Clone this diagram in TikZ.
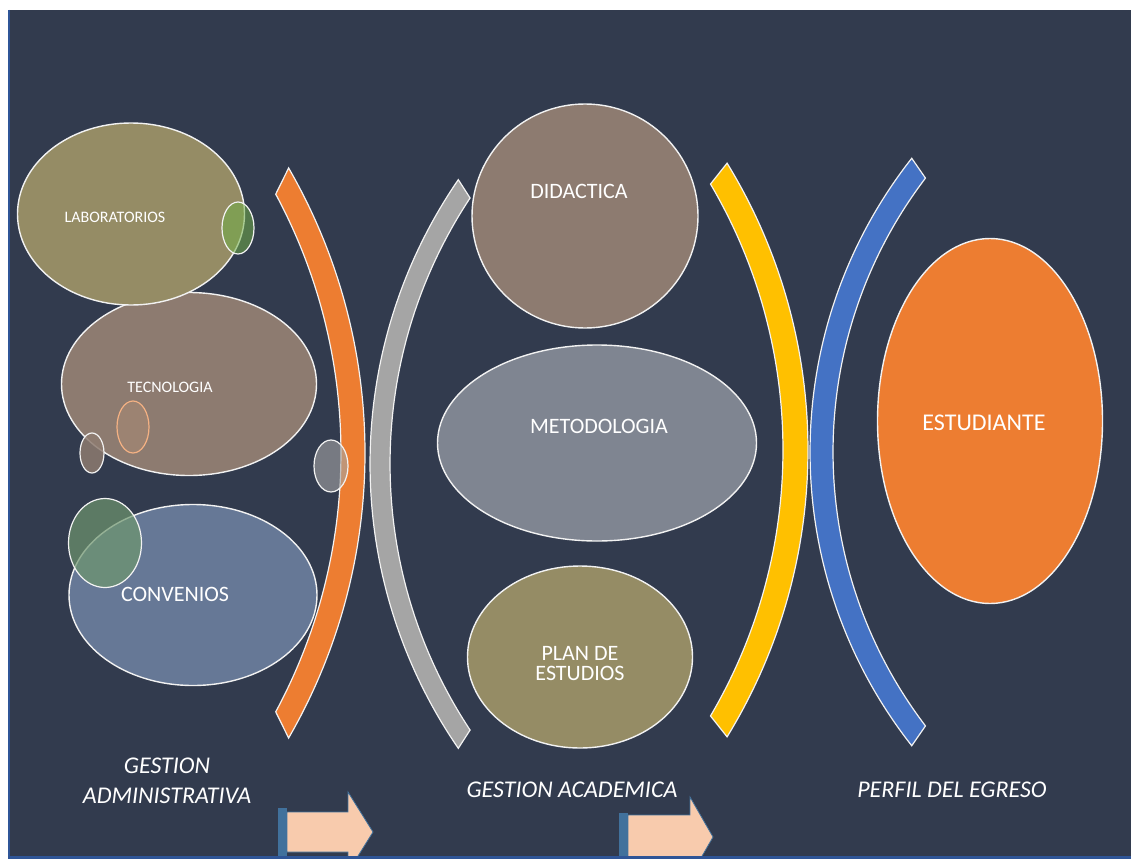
\documentclass[tikz,border=0pt]{standalone}
\usepackage{fontspec}
\setmainfont{Carlito}
\usetikzlibrary{shapes.geometric}

\definecolor{bgnavy}{HTML}{323B4E}
\definecolor{rimblue}{HTML}{2F5597}
\definecolor{labolive}{HTML}{958C65}
\definecolor{tecbrown}{HTML}{8D7B70}
\definecolor{convblue}{HTML}{667896}
\definecolor{metgray}{HTML}{7F8591}
\definecolor{arcorange}{HTML}{ED7D31}
\definecolor{arcgray}{HTML}{A5A5A5}
\definecolor{arcyellow}{HTML}{FFC000}
\definecolor{arcblue}{HTML}{4472C4}
\definecolor{spotgreen}{HTML}{70AD47}
\definecolor{convgreen}{HTML}{6E966E}
\definecolor{spotpeach}{HTML}{F4B183}
\definecolor{arrowpeach}{HTML}{F8CBAD}
\definecolor{barblue}{HTML}{41719C}

\begin{document}
\begin{tikzpicture}[x=1pt,y=-1pt,
    bubble/.style={ellipse,draw=white!90!gray,line width=1.4pt,inner sep=0pt},
    spot/.style={ellipse,draw=white!90!gray,line width=1.2pt,inner sep=0pt},
    band/.style={draw=white!90!gray,line width=1.2pt},
    word/.style={text=white,inner sep=0pt,align=center,font=\fontsize{22}{20}\selectfont},
    smallword/.style={text=white,inner sep=0pt,font=\fontsize{16}{16}\selectfont},
    caption/.style={text=white,inner sep=0pt,align=center,font=\itshape\fontsize{24}{30}\selectfont}]

    \useasboundingbox (0,0) rectangle (1131,859);
    \fill[white] (0,0) rectangle (1131,859);
    \fill[bgnavy] (8,10) rectangle (1131,857);

    % left group
    \node[bubble,fill=tecbrown,minimum width=255pt,minimum height=183pt] (tec) at (189,384) {};
    \node[bubble,fill=labolive,minimum width=227pt,minimum height=182pt] (lab) at (131,214) {};
    \node[bubble,fill=convblue,minimum width=248pt,minimum height=181pt] (conv) at (193,595) {};
    \node[spot,fill=spotgreen,fill opacity=.55,minimum width=32pt,minimum height=52pt] (labspot) at (238,228) {};
    \node[spot,draw=spotpeach,fill=spotpeach,fill opacity=.15,minimum width=32pt,minimum height=52pt] (tecspot) at (133,427) {};
    \node[spot,fill=tecbrown,fill opacity=.85,minimum width=24pt,minimum height=40pt] (tecdot) at (92,453) {};
    \node[spot,fill=convgreen,fill opacity=.7,minimum width=73pt,minimum height=89pt] (convspot) at (105,543) {};
    \node[smallword] (labtxt) at (115,217.5) {LABORATORIOS};
    \node[smallword] (tectxt) at (170,387) {TECNOLOGIA};
    \node[word] (convtxt) at (175,594.5) {CONVENIOS};

    % bands
    \coordinate (oc) at (-205,453);
    \coordinate (gc) at (872,464);
    \coordinate (yc) at (259,450);
    \coordinate (bc) at (1285,452);
    \filldraw[band,fill=arcorange] ([shift={(30:570)}]oc) arc[start angle=30,end angle=-30,radius=570]
        -- ([shift={(-28.3:546)}]oc) arc[start angle=-28.3,end angle=28.3,radius=546] -- cycle;
    \filldraw[band,fill=arcgray] ([shift={(145.5:502)}]gc) arc[start angle=145.5,end angle=214.5,radius=502]
        -- ([shift={(213.5:482)}]gc) arc[start angle=213.5,end angle=146.5,radius=482] -- cycle;
    \filldraw[band,fill=arcyellow] ([shift={(31.5:549)}]yc) arc[start angle=31.5,end angle=-31.5,radius=549]
        -- ([shift={(-30.5:524)}]yc) arc[start angle=-30.5,end angle=30.5,radius=524] -- cycle;
    \filldraw[band,fill=arcblue] ([shift={(141.8:475)}]bc) arc[start angle=141.8,end angle=218.2,radius=475]
        -- ([shift={(217.3:452)}]bc) arc[start angle=217.3,end angle=142.7,radius=452] -- cycle;
    \node[spot,fill=arcgray,fill opacity=.6,minimum width=34pt,minimum height=52pt] (arcspot) at (331,466) {};

    % middle group
    \node[bubble,fill=tecbrown,minimum width=226pt,minimum height=224pt] (did) at (585,216) {};
    \node[bubble,fill=metgray,minimum width=319pt,minimum height=196pt] (met) at (597,443) {};
    \node[bubble,fill=labolive,minimum width=225pt,minimum height=182pt] (plan) at (580,657) {};
    \node[word] (didtxt) at (579,191.5) {DIDACTICA};
    \node[word] (mettxt) at (599,426.5) {METODOLOGIA};
    \node[word] (plantxt) at (580,663.5) {PLAN DE\\ESTUDIOS};

    % right group
    \node[bubble,fill=arcorange,minimum width=225pt,minimum height=365pt] (est) at (990,421) {};
    \node[word,font=\fontsize{24}{24}\selectfont] (esttxt) at (984,422.5) {ESTUDIANTE};

    % captions
    \node[caption] (admin) at (167,780.5) {GESTION\\ADMINISTRATIVA};
    \node[caption] (acad) at (572,789.5) {GESTION ACADEMICA};
    \node[caption] (perfil) at (952,789.5) {PERFIL DEL EGRESO};

    % arrows
    \begin{scope}
        \clip (8,10) rectangle (1131,857);
        \filldraw[fill=arrowpeach,draw=barblue,line width=.8pt] (287,812) -- (348,812) -- (348,792) -- (373,832)
            -- (348,872) -- (348,852) -- (287,852) -- cycle;
        \fill[barblue] (278,808) rectangle (287,860);
        \filldraw[fill=arrowpeach,draw=barblue,line width=.8pt] (628,815) -- (690,815) -- (690,797) -- (713,837)
            -- (690,877) -- (690,859) -- (628,859) -- cycle;
        \fill[barblue] (619,813) rectangle (628,860);
    \end{scope}
    \draw[rimblue,line width=2.5pt] (9,10) -- (9,857.5) -- (1131,857.5);
\end{tikzpicture}
\end{document}
